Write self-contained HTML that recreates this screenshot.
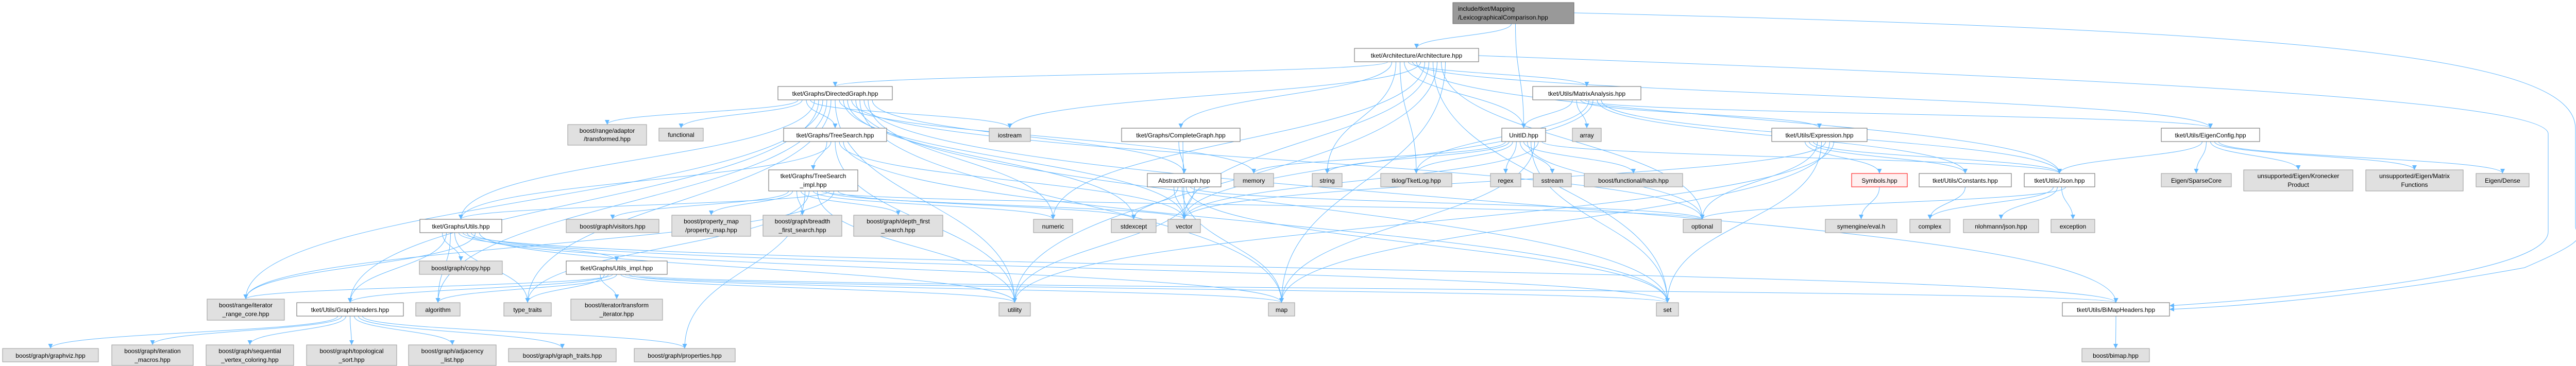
<!DOCTYPE html>
<html><head><meta charset="utf-8"><style>
html,body{margin:0;padding:0;background:#fff;}
svg{display:block;}
text{font-family:"Liberation Sans",sans-serif;font-size:12px;fill:#000;}
</style></head><body>
<svg id="g" width="5045" height="711" viewBox="0 0 5045 711" xmlns="http://www.w3.org/2000/svg">
<defs><marker id="ah" viewBox="0 0 10 10" refX="10" refY="5" markerWidth="9" markerHeight="9" orient="auto" markerUnits="userSpaceOnUse"><path d="M0,0 L10,5 L0,10 z" fill="#63b8ff"/></marker></defs>
<g id="edges" fill="none" stroke="#63b8ff" stroke-width="1"></g>
<g id="nodes">
<rect x="2820" y="5" width="235" height="41" fill="#999" stroke="#666"/><text x="2830" y="21">include/tket/Mapping</text><text x="2830" y="38">/LexicographicalComparison.hpp</text>
<rect x="2629" y="94" width="241" height="26" fill="#fff" stroke="#666"/><text x="2749.5" y="112" text-anchor="middle">tket/Architecture/Architecture.hpp</text>
<rect x="1510" y="168" width="222" height="26" fill="#fff" stroke="#666"/><text x="1621" y="186" text-anchor="middle">tket/Graphs/DirectedGraph.hpp</text>
<rect x="2975" y="168" width="210" height="26" fill="#fff" stroke="#666"/><text x="3080" y="186" text-anchor="middle">tket/Utils/MatrixAnalysis.hpp</text>
<rect x="1102" y="242" width="153" height="40" fill="#e0e0e0" stroke="#999"/><text x="1178.5" y="258" text-anchor="middle">boost/range/adaptor</text><text x="1178.5" y="274" text-anchor="middle">/transformed.hpp</text>
<rect x="1279" y="249" width="86" height="25" fill="#e0e0e0" stroke="#999"/><text x="1322" y="266" text-anchor="middle">functional</text>
<rect x="1521" y="249" width="200" height="26" fill="#fff" stroke="#666"/><text x="1621" y="267" text-anchor="middle">tket/Graphs/TreeSearch.hpp</text>
<rect x="1920" y="249" width="80" height="26" fill="#e0e0e0" stroke="#999"/><text x="1960" y="267" text-anchor="middle">iostream</text>
<rect x="2177" y="249" width="230" height="26" fill="#fff" stroke="#666"/><text x="2292" y="267" text-anchor="middle">tket/Graphs/CompleteGraph.hpp</text>
<rect x="2915" y="249" width="85" height="26" fill="#fff" stroke="#666"/><text x="2957.5" y="267" text-anchor="middle">UnitID.hpp</text>
<rect x="3052" y="249" width="56" height="26" fill="#e0e0e0" stroke="#999"/><text x="3080" y="267" text-anchor="middle">array</text>
<rect x="3439" y="249" width="185" height="26" fill="#fff" stroke="#666"/><text x="3531.5" y="267" text-anchor="middle">tket/Utils/Expression.hpp</text>
<rect x="4195" y="249" width="191" height="26" fill="#fff" stroke="#666"/><text x="4290.5" y="267" text-anchor="middle">tket/Utils/EigenConfig.hpp</text>
<rect x="1492" y="330" width="173" height="41" fill="#fff" stroke="#666"/><text x="1578.5" y="346" text-anchor="middle">tket/Graphs/TreeSearch</text><text x="1578.5" y="363" text-anchor="middle">_impl.hpp</text>
<rect x="2227" y="337" width="143" height="26" fill="#fff" stroke="#666"/><text x="2298.5" y="355" text-anchor="middle">AbstractGraph.hpp</text>
<rect x="2395" y="337" width="77" height="26" fill="#e0e0e0" stroke="#999"/><text x="2433.5" y="355" text-anchor="middle">memory</text>
<rect x="2547" y="337" width="58" height="26" fill="#e0e0e0" stroke="#999"/><text x="2576" y="355" text-anchor="middle">string</text>
<rect x="2680" y="337" width="138" height="26" fill="#e0e0e0" stroke="#999"/><text x="2749" y="355" text-anchor="middle">tklog/TketLog.hpp</text>
<rect x="2893" y="337" width="59" height="26" fill="#e0e0e0" stroke="#999"/><text x="2922.5" y="355" text-anchor="middle">regex</text>
<rect x="2976" y="337" width="74" height="26" fill="#e0e0e0" stroke="#999"/><text x="3013" y="355" text-anchor="middle">sstream</text>
<rect x="3075" y="337" width="191" height="26" fill="#e0e0e0" stroke="#999"/><text x="3170.5" y="355" text-anchor="middle">boost/functional/hash.hpp</text>
<rect x="3594" y="337" width="108" height="26" fill="#fff0f0" stroke="#f00"/><text x="3648" y="355" text-anchor="middle">Symbols.hpp</text>
<rect x="3725" y="337" width="179" height="26" fill="#fff" stroke="#666"/><text x="3814.5" y="355" text-anchor="middle">tket/Utils/Constants.hpp</text>
<rect x="3929" y="337" width="137" height="26" fill="#fff" stroke="#666"/><text x="3997.5" y="355" text-anchor="middle">tket/Utils/Json.hpp</text>
<rect x="4195" y="337" width="136" height="26" fill="#e0e0e0" stroke="#999"/><text x="4263" y="355" text-anchor="middle">Eigen/SparseCore</text>
<rect x="4355" y="330" width="212" height="41" fill="#e0e0e0" stroke="#999"/><text x="4461" y="346" text-anchor="middle">unsupported/Eigen/Kronecker</text><text x="4461" y="363" text-anchor="middle">Product</text>
<rect x="4592" y="330" width="189" height="41" fill="#e0e0e0" stroke="#999"/><text x="4686.5" y="346" text-anchor="middle">unsupported/Eigen/Matrix</text><text x="4686.5" y="363" text-anchor="middle">Functions</text>
<rect x="4806" y="337" width="103" height="26" fill="#e0e0e0" stroke="#999"/><text x="4857.5" y="355" text-anchor="middle">Eigen/Dense</text>
<rect x="815" y="426" width="159" height="26" fill="#fff" stroke="#666"/><text x="894.5" y="444" text-anchor="middle">tket/Graphs/Utils.hpp</text>
<rect x="1099" y="426" width="180" height="26" fill="#e0e0e0" stroke="#999"/><text x="1189" y="444" text-anchor="middle">boost/graph/visitors.hpp</text>
<rect x="1304" y="418" width="153" height="41" fill="#e0e0e0" stroke="#999"/><text x="1380.5" y="434" text-anchor="middle">boost/property_map</text><text x="1380.5" y="451" text-anchor="middle">/property_map.hpp</text>
<rect x="1481" y="418" width="153" height="41" fill="#e0e0e0" stroke="#999"/><text x="1557.5" y="434" text-anchor="middle">boost/graph/breadth</text><text x="1557.5" y="451" text-anchor="middle">_first_search.hpp</text>
<rect x="1657" y="418" width="173" height="41" fill="#e0e0e0" stroke="#999"/><text x="1743.5" y="434" text-anchor="middle">boost/graph/depth_first</text><text x="1743.5" y="451" text-anchor="middle">_search.hpp</text>
<rect x="2006" y="426" width="76" height="26" fill="#e0e0e0" stroke="#999"/><text x="2044" y="444" text-anchor="middle">numeric</text>
<rect x="2157" y="426" width="87" height="26" fill="#e0e0e0" stroke="#999"/><text x="2200.5" y="444" text-anchor="middle">stdexcept</text>
<rect x="2267" y="426" width="63" height="26" fill="#e0e0e0" stroke="#999"/><text x="2298.5" y="444" text-anchor="middle">vector</text>
<rect x="3267" y="426" width="74" height="26" fill="#e0e0e0" stroke="#999"/><text x="3304" y="444" text-anchor="middle">optional</text>
<rect x="3543" y="426" width="139" height="26" fill="#e0e0e0" stroke="#999"/><text x="3612.5" y="444" text-anchor="middle">symengine/eval.h</text>
<rect x="3707" y="426" width="78" height="26" fill="#e0e0e0" stroke="#999"/><text x="3746" y="444" text-anchor="middle">complex</text>
<rect x="3811" y="426" width="146" height="26" fill="#e0e0e0" stroke="#999"/><text x="3884" y="444" text-anchor="middle">nlohmann/json.hpp</text>
<rect x="3981" y="426" width="85" height="26" fill="#e0e0e0" stroke="#999"/><text x="4023.5" y="444" text-anchor="middle">exception</text>
<rect x="1099" y="507" width="196" height="26" fill="#fff" stroke="#666"/><text x="1197" y="525" text-anchor="middle">tket/Graphs/Utils_impl.hpp</text>
<rect x="814" y="507" width="161" height="26" fill="#e0e0e0" stroke="#999"/><text x="894.5" y="525" text-anchor="middle">boost/graph/copy.hpp</text>
<rect x="402" y="581" width="150" height="41" fill="#e0e0e0" stroke="#999"/><text x="477" y="597" text-anchor="middle">boost/range/iterator</text><text x="477" y="614" text-anchor="middle">_range_core.hpp</text>
<rect x="576" y="588" width="207" height="26" fill="#fff" stroke="#666"/><text x="679.5" y="606" text-anchor="middle">tket/Utils/GraphHeaders.hpp</text>
<rect x="807" y="588" width="86" height="26" fill="#e0e0e0" stroke="#999"/><text x="850" y="606" text-anchor="middle">algorithm</text>
<rect x="978" y="588" width="92" height="26" fill="#e0e0e0" stroke="#999"/><text x="1024" y="606" text-anchor="middle">type_traits</text>
<rect x="1108" y="581" width="178" height="41" fill="#e0e0e0" stroke="#999"/><text x="1197" y="597" text-anchor="middle">boost/iterator/transform</text><text x="1197" y="614" text-anchor="middle">_iterator.hpp</text>
<rect x="1939" y="588" width="61" height="26" fill="#e0e0e0" stroke="#999"/><text x="1969.5" y="606" text-anchor="middle">utility</text>
<rect x="2462" y="588" width="51" height="26" fill="#e0e0e0" stroke="#999"/><text x="2487.5" y="606" text-anchor="middle">map</text>
<rect x="3215" y="588" width="43" height="26" fill="#e0e0e0" stroke="#999"/><text x="3236.5" y="606" text-anchor="middle">set</text>
<rect x="4003" y="588" width="208" height="26" fill="#fff" stroke="#666"/><text x="4107" y="606" text-anchor="middle">tket/Utils/BiMapHeaders.hpp</text>
<rect x="5" y="677" width="186" height="26" fill="#e0e0e0" stroke="#999"/><text x="98" y="695" text-anchor="middle">boost/graph/graphviz.hpp</text>
<rect x="217" y="670" width="158" height="40" fill="#e0e0e0" stroke="#999"/><text x="296" y="686" text-anchor="middle">boost/graph/iteration</text><text x="296" y="703" text-anchor="middle">_macros.hpp</text>
<rect x="400" y="670" width="170" height="40" fill="#e0e0e0" stroke="#999"/><text x="485" y="686" text-anchor="middle">boost/graph/sequential</text><text x="485" y="703" text-anchor="middle">_vertex_coloring.hpp</text>
<rect x="595" y="670" width="175" height="40" fill="#e0e0e0" stroke="#999"/><text x="682.5" y="686" text-anchor="middle">boost/graph/topological</text><text x="682.5" y="703" text-anchor="middle">_sort.hpp</text>
<rect x="793" y="670" width="170" height="40" fill="#e0e0e0" stroke="#999"/><text x="878" y="686" text-anchor="middle">boost/graph/adjacency</text><text x="878" y="703" text-anchor="middle">_list.hpp</text>
<rect x="987" y="677" width="209" height="26" fill="#e0e0e0" stroke="#999"/><text x="1091.5" y="695" text-anchor="middle">boost/graph/graph_traits.hpp</text>
<rect x="1231" y="677" width="196" height="26" fill="#e0e0e0" stroke="#999"/><text x="1329" y="695" text-anchor="middle">boost/graph/properties.hpp</text>
<rect x="4041" y="677" width="131" height="26" fill="#e0e0e0" stroke="#999"/><text x="4106.5" y="695" text-anchor="middle">boost/bimap.hpp</text>
</g>
</svg>
<script>
var N={root:[2820,5,235,41],A:[2629,94,241,26],DG:[1510,168,222,26],MA:[2975,168,210,26],TRF:[1102,242,153,40],FUN:[1279,249,86,25],TS:[1521,249,200,26],IOS:[1920,249,80,26],CG:[2177,249,230,26],UID:[2915,249,85,26],ARR:[3052,249,56,26],EXP:[3439,249,185,26],EC:[4195,249,191,26],TSI:[1492,330,173,41],AG:[2227,337,143,26],MEM:[2395,337,77,26],STR:[2547,337,58,26],TKL:[2680,337,138,26],REG:[2893,337,59,26],SST:[2976,337,74,26],HASH:[3075,337,191,26],SYM:[3594,337,108,26],CONS:[3725,337,179,26],JSON:[3929,337,137,26],SPC:[4195,337,136,26],KRO:[4355,330,212,41],MFN:[4592,330,189,41],DEN:[4806,337,103,26],UT:[815,426,159,26],VIS:[1099,426,180,26],PM:[1304,418,153,41],BFS:[1481,418,153,41],DFS:[1657,418,173,41],NUM:[2006,426,76,26],SE:[2157,426,87,26],VEC:[2267,426,63,26],OPT:[3267,426,74,26],SEV:[3543,426,139,26],CPX:[3707,426,78,26],NLO:[3811,426,146,26],EXC:[3981,426,85,26],UI:[1099,507,196,26],COPY:[814,507,161,26],IRC:[402,581,150,41],GH:[576,588,207,26],ALG:[807,588,86,26],TT:[978,588,92,26],TI:[1108,581,178,41],UTL:[1939,588,61,26],MAP:[2462,588,51,26],SET:[3215,588,43,26],BMH:[4003,588,208,26],GV:[5,677,186,26],IM:[217,670,158,40],SVC:[400,670,170,40],TOP:[595,670,175,40],ADJ:[793,670,170,40],GT:[987,677,209,26],PROP:[1231,677,196,26],BIM:[4041,677,131,26]};
var E={root:["A","UID"],A:["DG","CG","STR","TKL","UID","MA","EC","JSON","IOS","NUM","VEC","SET","UTL","OPT","MAP"],
DG:["TRF","FUN","TS","IOS","UT","GH","IRC","ALG","TT","UTL","MEM","VEC","SE","OPT","SET","MAP","BMH","NUM","AG"],
TS:["TSI","UT","UTL","VEC","SET"],TSI:["VIS","PM","BFS","DFS","PROP","TT","NUM","UTL","OPT","VEC","UT","IRC","SE"],
UT:["COPY","GH","ALG","TT","UI","BMH","MAP","SET","IRC","UTL"],UI:["TI","TT","GH","IRC","ALG","UTL","SET","MAP","BMH"],
GH:["GV","IM","SVC","TOP","ADJ","GT","PROP"],CG:["AG","VEC"],AG:["VEC","SE","MAP","SET","OPT","UTL"],
UID:["MEM","STR","TKL","REG","SST","HASH","OPT","SET","MAP","VEC","JSON"],MA:["UID","ARR","EXP","EC","TKL","VEC","CONS","JSON"],
EXP:["SYM","CONS","JSON","OPT","SET","VEC","MAP","UTL"],SYM:["SEV"],CONS:["CPX"],JSON:["CPX","NLO","EXC","OPT"],
EC:["JSON","SPC","KRO","MFN","DEN"],BMH:["BIM"]};
var g=document.getElementById("edges"),ns="http://www.w3.org/2000/svg";
function add(d){var p=document.createElementNS(ns,"path");p.setAttribute("d",d);p.setAttribute("marker-end","url(#ah)");g.appendChild(p);}
for(var s in E){var a=N[s];var L=E[s];for(var i=0;i<L.length;i++){var b=N[L[i]];
var sx=a[0]+a[2]/2+(i-(L.length-1)/2)*Math.min(8,a[2]/(L.length+1)),sy=a[1]+a[3];
var tx=b[0]+b[2]/2,ty=b[1];var m=(sy+ty)/2;
add("M"+sx+","+sy+" C"+sx+","+m+" "+tx+","+m+" "+tx+","+ty);}}
add("M3055,25 C4500,60 4999,110 4999,250 L4999,440 C4999,460 5040,460 4900,520 C4600,575 4350,595 4211,601");
add("M2870,108 C4000,150 4946,190 4946,260 L4946,450 C4946,530 4500,575 4211,594");
</script>
</body></html>
